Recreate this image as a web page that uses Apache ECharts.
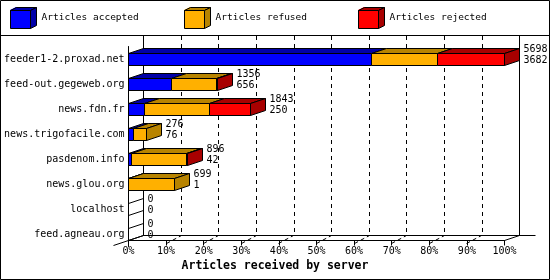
<!DOCTYPE html>
<html><head><meta charset="utf-8">
<script src="https://cdn.jsdelivr.net/npm/echarts@6/dist/echarts.min.js"></script>
<style>html,body{margin:0;padding:0;background:#fff}#c{width:550px;height:280px}</style>
</head><body><div id="c"></div>
<script>
const categories = ['feeder1-2.proxad.net','feed-out.gegeweb.org','news.fdn.fr','news.trigofacile.com','pasdenom.info','news.glou.org','localhost','feed.agneau.org'];
const accepted = [3682, 656, 250, 76, 42, 1, 0, 0];
const refused  = [996, 670, 983, 200, 840, 698, 0, 0];
const rejected = [1020, 30, 610, 0, 14, 0, 0, 0];
const offered  = [5698, 1356, 1843, 276, 896, 699, 0, 0];
const xTickLabels = ['0%','10%','20%','30%','40%','50%','60%','70%','80%','90%','100%'];
const seriesNames = ['Articles accepted','Articles refused','Articles rejected'];
const axisTitle = 'Articles received by server';

const FONT = '"DejaVu Sans Mono", "Liberation Mono", monospace';
const DX = 15, DY = 5;
const segVals = [accepted, refused, rejected];
const segFront = ['#0000ff','#ffb000','#ff0000'];
const segDark = ['#0000a8','#b88400','#a80000'];
const maxTotal = Math.max(...offered);
const pct = v => v / maxTotal * 100;

function segData(s){
  return categories.map((c,i)=>{
    let start=0; for(let k=0;k<s;k++) start+=segVals[k][i];
    const end = start + segVals[s][i];
    let last=-1; for(let k=0;k<3;k++) if(segVals[k][i]>0) last=k;
    return [i, pct(start), pct(end), last===s?1:0, offered[i]];
  });
}
const px = v => Math.round(v - 0.5) + 0.5;
const line = (a,b,c,d,dash)=>({type:'line', shape:{x1:a,y1:b,x2:c,y2:d}, style:{stroke:'#000', lineWidth:1, lineDash:dash||null, fill:null}});
const poly = (pts, fill)=>({type:'polygon', shape:{points:pts}, style:{fill:fill, stroke:'#000', lineWidth:1}});

function segRender(s){
  return function(params, api){
    const i = api.value(0), a = api.value(1), b = api.value(2), isLast = api.value(3), tot = api.value(4);
    const pa = api.coord([a, i]), pb = api.coord([b, i]);
    const top = Math.floor(pa[1] - 6) + 0.5, bot = top + 12;
    const x0 = px(pa[0]), x1 = px(pb[0]);
    const ch = [];
    if (tot === 0) {
      if (s === 0) {
        ch.push(line(x0, top, x0+DX, top-DY));
        ch.push(line(x0, bot, x0+DX, bot-DY));
      }
      return {type:'group', children: ch};
    }
    if (b <= a) return {type:'group', children: ch};
    ch.push(poly([[x0,top],[x1,top],[x1+DX,top-DY],[x0+DX,top-DY]], segDark[s]));
    ch.push(poly([[x0,top],[x1,top],[x1,bot],[x0,bot]], segFront[s]));
    if (isLast) ch.push(poly([[x1,top],[x1+DX,top-DY],[x1+DX,bot-DY],[x1,bot]], segDark[s]));
    return {type:'group', children: ch};
  };
}

const series = [];
series.push({
  type:'custom', name:'frame', xAxisIndex:0, yAxisIndex:0, silent:true, z:1,
  data:[[0,0]], encode:{x:0,y:1},
  renderItem(params, api){
    const cs = params.coordSys;
    const yA = cs.y + cs.height - 6;
    const x0 = api.coord([0,0])[0], x100 = api.coord([100,0])[0];
    const ch = [];
    ch.push(line(x0-DX, yA+DY, x0+DX, yA-DY));
    ch.push(line(x100, yA, x100+DX, yA-DY));
    ch.push(line(x100+DX, yA-DY, x100+2*DX+1, yA-DY));
    for (let k=1;k<=9;k++){
      const xk = px(api.coord([k*10,0])[0]);
      ch.push(line(xk, yA+3, xk+DX, yA-DY, [4,3]));
    }
    return {type:'group', children: ch};
  }
});
for (let s=0;s<3;s++){
  series.push({
    type:'custom', name: seriesNames[s], xAxisIndex:0, yAxisIndex:0, silent:true,
    itemStyle:{color: segFront[s]},
    data: segData(s), encode:{x:[1,2], y:0},
    renderItem: segRender(s)
  });
}
series.push({
  type:'custom', name:'labels', xAxisIndex:0, yAxisIndex:0, silent:true, z:5,
  data: categories.map((c,i)=>[i, pct(accepted[i]+refused[i]+rejected[i]), offered[i], accepted[i]]),
  encode:{x:1, y:0},
  renderItem(params, api){
    const i = api.value(0);
    const p = api.coord([api.value(1), i]);
    const x = px(p[0]) + DX + 4;
    const top = Math.floor(p[1] - 6) + 0.5;
    const t = (txt, y)=>({type:'text', style:{text:String(txt), x:x, y:y, fill:'#000', font:'10px ' + FONT, align:'left', verticalAlign:'middle'}});
    return {type:'group', children:[t(api.value(2), top-4), t(api.value(3), top+7)]};
  }
});

const legendLefts = [10, 184, 358];
const legendOverlay = [];
legendLefts.forEach((L, s)=>{
  legendOverlay.push({type:'polygon', z:100, shape:{points:[[L+.5,10.5],[L+6.5,7.5],[L+26.5,7.5],[L+20.5,10.5]]}, style:{fill:segDark[s], stroke:'#000', lineWidth:1}});
  legendOverlay.push({type:'polygon', z:100, shape:{points:[[L+20.5,10.5],[L+26.5,7.5],[L+26.5,25.5],[L+20.5,28.5]]}, style:{fill:segDark[s], stroke:'#000', lineWidth:1}});
  legendOverlay.push({type:'polygon', z:100, shape:{points:[[L+.5,10.5],[L+20.5,10.5],[L+20.5,28.5],[L+.5,28.5]]}, style:{fill:segFront[s], stroke:'#000', lineWidth:1}});
});

const option = {
  backgroundColor:'#ffffff',
  animation:false,
  title:{text: axisTitle, left:'center', top:260, padding:0,
    textStyle:{fontFamily:FONT, fontSize:11.5, fontWeight:'bold', color:'#000'}},
  legend: seriesNames.map((n,s)=>({
    data:[n], left: legendLefts[s], top:7, padding:0, itemWidth:27, itemHeight:21,
    icon:'path://M0,3L6,0L26,0L26,18L20,21L0,21Z', selectedMode:false,
    textStyle:{fontFamily:FONT, fontSize:9.5, color:'#000', padding:[5,0,0,0]}
  })),
  grid:[
    {left:128.5, right:45.5, top:46.5, bottom:33.5, containLabel:false},
    {left:143.5, right:30.5, top:36, bottom:44.5, containLabel:false}
  ],
  xAxis:[
    {type:'value', gridIndex:0, min:0, max:100, interval:10, offset:-6,
     axisLine:{show:true, onZero:false, lineStyle:{color:'#000', width:1}},
     axisTick:{show:true, length:5, lineStyle:{color:'#000'}},
     axisLabel:{color:'#000', fontFamily:FONT, fontSize:10, margin:6,
       formatter:(v)=>xTickLabels[Math.round(v/10)]},
     splitLine:{show:false}},
    {type:'value', gridIndex:1, min:0, max:100, interval:10,
     axisLine:{show:true, onZero:false, lineStyle:{color:'#000', width:1}},
     axisTick:{show:false}, axisLabel:{show:false},
     splitLine:{show:true, lineStyle:{color:'#000', width:1, type:[4,4]}}}
  ],
  yAxis:[
    {type:'category', gridIndex:0, data:categories, inverse:true,
     axisLine:{show:true, onZero:false, lineStyle:{color:'#000', width:1}},
     axisTick:{show:false},
     axisLabel:{color:'#000', fontFamily:FONT, fontSize:10, margin:4},
     splitLine:{show:false}},
    {type:'value', gridIndex:1, min:0, max:1, position:'left',
     axisLine:{show:true, onZero:false, lineStyle:{color:'#000', width:1}},
     axisTick:{show:false}, axisLabel:{show:false}, splitLine:{show:false}},
    {type:'value', gridIndex:1, min:0, max:1, position:'right',
     axisLine:{show:true, onZero:false, lineStyle:{color:'#000', width:1}},
     axisTick:{show:false}, axisLabel:{show:false}, splitLine:{show:false}}
  ],
  graphic:[
    {type:'rect', z:100, silent:true, shape:{x:0.5, y:0.5, width:549, height:279}, style:{fill:null, stroke:'#000', lineWidth:1}},
    {type:'line', z:100, silent:true, shape:{x1:0, y1:35.5, x2:550, y2:35.5}, style:{stroke:'#000', lineWidth:1}},
    ...legendOverlay
  ],
  series: series
};
const chart = echarts.init(document.getElementById('c'), null, {renderer:'canvas'});
chart.setOption(option);
</script>
</body></html>
